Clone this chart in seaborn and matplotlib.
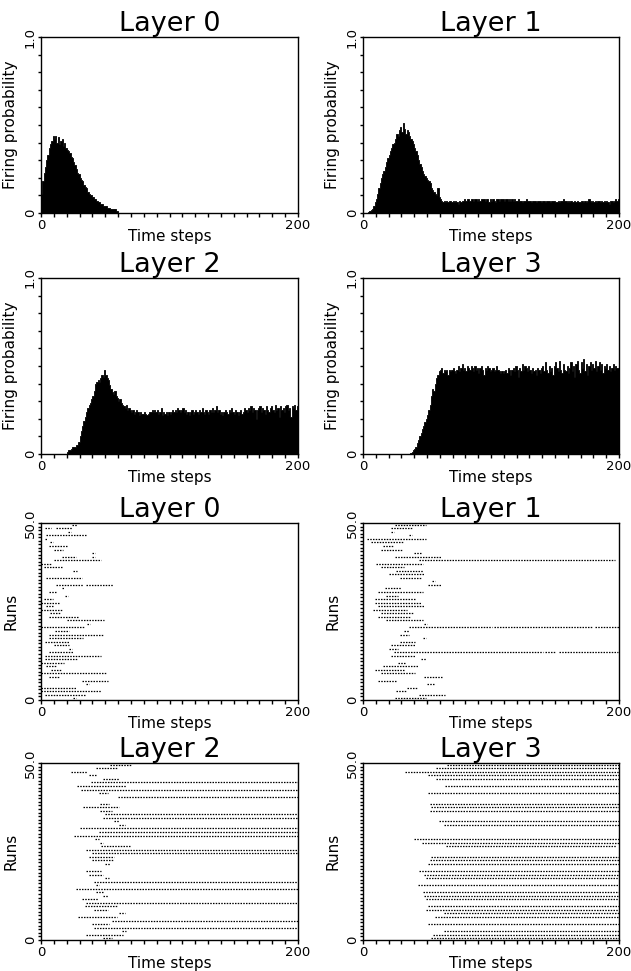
import numpy as np
import pandas as pd
import seaborn as sns
import matplotlib
matplotlib.use("Agg")
import matplotlib.pyplot as plt

# firing probability per time step (0..199)
layer0_prob = [
    0.11, 0.18, 0.23, 0.26, 0.30, 0.33, 0.37, 0.39, 0.41, 0.44,
    0.42, 0.44, 0.40, 0.43, 0.39, 0.41, 0.42, 0.38, 0.40, 0.37,
    0.36, 0.35, 0.34, 0.32, 0.31, 0.29, 0.27, 0.25, 0.23, 0.22,
    0.20, 0.19, 0.18, 0.16, 0.15, 0.14, 0.12, 0.11, 0.10, 0.10,
    0.09, 0.08, 0.08, 0.07, 0.06, 0.06, 0.05, 0.05, 0.04, 0.04,
    0.04, 0.03, 0.03, 0.03, 0.02, 0.02, 0.02, 0.02, 0.01, 0.01,
] + [0.0] * 140

layer1_prob = [
    0.0, 0.0, 0.0, 0.0, 0.005, 0.01, 0.015, 0.02, 0.04, 0.06,
    0.08, 0.11, 0.14, 0.17, 0.20, 0.22, 0.24, 0.26, 0.29, 0.31,
    0.33, 0.35, 0.37, 0.39, 0.40, 0.42, 0.45, 0.44, 0.47, 0.49,
    0.46, 0.51, 0.48, 0.45, 0.47, 0.46, 0.44, 0.42, 0.41, 0.39,
    0.37, 0.35, 0.33, 0.30, 0.28, 0.26, 0.24, 0.22, 0.21, 0.20,
    0.19, 0.18, 0.17, 0.14, 0.13, 0.12, 0.11, 0.10, 0.14, 0.09,
    0.08, 0.07, 0.06, 0.07, 0.06, 0.07, 0.06, 0.07, 0.07, 0.06,
    0.07, 0.06, 0.07, 0.06, 0.05, 0.07, 0.06, 0.07, 0.07, 0.08,
    0.07, 0.08, 0.08, 0.07, 0.08, 0.08, 0.07, 0.08, 0.08, 0.07,
    0.08, 0.07, 0.08, 0.08, 0.08, 0.07, 0.08, 0.08, 0.06, 0.08,
    0.07, 0.08, 0.07, 0.06, 0.08, 0.08, 0.07, 0.08, 0.08, 0.08,
    0.07, 0.08, 0.08, 0.07, 0.08, 0.07, 0.08, 0.07, 0.08, 0.07,
    0.07, 0.08, 0.07, 0.07, 0.06, 0.07, 0.07, 0.08, 0.07, 0.07,
    0.07, 0.06, 0.07, 0.07, 0.07, 0.06, 0.07, 0.07, 0.07, 0.06,
    0.07, 0.07, 0.06, 0.07, 0.07, 0.07, 0.06, 0.07, 0.07, 0.07,
    0.06, 0.06, 0.07, 0.06, 0.07, 0.07, 0.08, 0.07, 0.07, 0.06,
    0.07, 0.06, 0.07, 0.06, 0.06, 0.07, 0.06, 0.07, 0.06, 0.06,
    0.07, 0.07, 0.06, 0.07, 0.06, 0.07, 0.08, 0.07, 0.06, 0.07,
    0.06, 0.07, 0.06, 0.07, 0.07, 0.06, 0.07, 0.06, 0.07, 0.06,
    0.07, 0.06, 0.05, 0.07, 0.07, 0.06, 0.07, 0.08, 0.07, 0.08,
]

layer2_prob = [0.0] * 20 + [
    0.01, 0.02, 0.02, 0.03, 0.04, 0.04, 0.04, 0.05, 0.05, 0.07,
    0.10, 0.13, 0.16, 0.19, 0.21, 0.24, 0.26, 0.28, 0.29, 0.31,
    0.33, 0.36, 0.40, 0.41, 0.42, 0.41, 0.43, 0.45, 0.44, 0.48,
    0.45, 0.43, 0.42, 0.39, 0.37, 0.35, 0.34, 0.36, 0.33, 0.32,
    0.30, 0.31, 0.29, 0.28, 0.27, 0.26, 0.28, 0.25, 0.26, 0.25,
    0.24, 0.25, 0.23, 0.24, 0.25, 0.24, 0.22, 0.24, 0.23, 0.23,
    0.24, 0.23, 0.22, 0.23, 0.24, 0.24, 0.25, 0.24, 0.25, 0.24,
    0.25, 0.23, 0.24, 0.26, 0.22, 0.24, 0.23, 0.24, 0.22, 0.24,
    0.23, 0.24, 0.25, 0.24, 0.25, 0.24, 0.26, 0.25, 0.24, 0.25,
    0.26, 0.24, 0.25, 0.23, 0.24, 0.22, 0.24, 0.25, 0.23, 0.24,
    0.25, 0.24, 0.23, 0.25, 0.24, 0.26, 0.24, 0.23, 0.25, 0.24,
    0.23, 0.25, 0.24, 0.26, 0.24, 0.25, 0.27, 0.24, 0.25, 0.23,
    0.24, 0.22, 0.24, 0.25, 0.24, 0.23, 0.25, 0.24, 0.26, 0.24,
    0.23, 0.25, 0.24, 0.22, 0.24, 0.25, 0.23, 0.24, 0.26, 0.25,
    0.24, 0.26, 0.25, 0.27, 0.24, 0.26, 0.25, 0.20, 0.25, 0.26,
    0.27, 0.24, 0.26, 0.25, 0.23, 0.27, 0.25, 0.24, 0.26, 0.27,
    0.25, 0.24, 0.28, 0.25, 0.26, 0.21, 0.27, 0.25, 0.26, 0.24,
    0.27, 0.28, 0.25, 0.26, 0.21, 0.27, 0.26, 0.28, 0.25, 0.27,
]

layer3_prob = [0.0] * 37 + [
    0.005, 0.01, 0.02,
    0.03, 0.04, 0.06, 0.08, 0.10, 0.12, 0.14, 0.16, 0.18, 0.20,
    0.22, 0.25, 0.28, 0.33, 0.37, 0.36, 0.40, 0.43, 0.45, 0.47,
    0.48, 0.49, 0.46, 0.48, 0.47, 0.48, 0.45, 0.48, 0.47, 0.48,
    0.49, 0.47, 0.46, 0.48, 0.50, 0.47, 0.49, 0.51, 0.48, 0.49,
    0.47, 0.50, 0.49, 0.48, 0.50, 0.49, 0.47, 0.50, 0.48, 0.49,
    0.46, 0.49, 0.50, 0.48, 0.45, 0.49, 0.48, 0.50, 0.49, 0.47,
    0.48, 0.49, 0.47, 0.48, 0.50, 0.48, 0.47, 0.46, 0.47, 0.46,
    0.47, 0.48, 0.46, 0.49, 0.48, 0.45, 0.48, 0.49, 0.47, 0.50,
    0.48, 0.44, 0.49, 0.47, 0.51, 0.48, 0.50, 0.49, 0.47, 0.50,
    0.48, 0.46, 0.49, 0.47, 0.48, 0.45, 0.49, 0.48, 0.46, 0.49,
    0.50, 0.47, 0.52, 0.48, 0.46, 0.50, 0.47, 0.49, 0.45, 0.50,
    0.52, 0.49, 0.47, 0.53, 0.48, 0.46, 0.51, 0.48, 0.47, 0.50,
    0.46, 0.49, 0.52, 0.47, 0.50, 0.44, 0.51, 0.53, 0.48, 0.46,
    0.52, 0.49, 0.54, 0.47, 0.51, 0.45, 0.50, 0.52, 0.48, 0.51,
    0.49, 0.53, 0.47, 0.50, 0.52, 0.48, 0.51, 0.46, 0.50, 0.49,
    0.51, 0.48, 0.50, 0.47, 0.49, 0.51, 0.48, 0.50, 0.49, 0.49,
]

# raster: (run, first step, last step) of each firing stretch
raster0 = [
    (49, 24, 27), (48, 3, 7), (48, 12, 23), (47, 21, 22), (46, 4, 35),
    (45, 3, 4), (44, 7, 8), (43, 6, 20), (42, 10, 16), (41, 40, 41),
    (40, 16, 26), (40, 40, 41), (39, 10, 46), (38, 0, 7), (37, 2, 15),
    (36, 25, 27), (34, 4, 31), (32, 12, 32), (32, 35, 55), (31, 16, 17),
    (30, 6, 11), (29, 19, 20), (28, 2, 8), (27, 0, 13), (26, 4, 8),
    (25, 0, 16), (24, 7, 14), (23, 6, 28), (22, 20, 48), (21, 36, 37),
    (20, 0, 33), (19, 11, 21), (18, 6, 48), (17, 6, 32), (16, 3, 21),
    (15, 10, 21), (14, 22, 23), (13, 6, 24), (12, 3, 46), (11, 3, 28),
    (10, 0, 17), (9, 4, 11), (8, 8, 15), (7, 0, 50), (6, 6, 13),
    (5, 32, 51), (4, 35, 36), (3, 0, 26), (2, 0, 46), (1, 3, 34),
    (0, 25, 26),
]

raster1 = [
    (49, 25, 48), (48, 22, 37), (47, 22, 23), (46, 36, 37), (45, 3, 48),
    (44, 6, 31), (43, 16, 23), (42, 14, 30), (41, 40, 44), (40, 25, 60),
    (39, 44, 102), (39, 104, 160), (39, 162, 196), (38, 10, 46),
    (37, 14, 31), (36, 26, 46), (35, 20, 47), (34, 29, 44), (33, 54, 55),
    (32, 51, 60), (31, 17, 29), (30, 12, 46), (29, 18, 26), (28, 9, 40),
    (27, 9, 44), (26, 12, 47), (25, 8, 33), (24, 14, 38), (23, 12, 36),
    (22, 18, 46), (21, 48, 49), (20, 36, 100), (20, 102, 178),
    (20, 181, 199), (19, 32, 35), (18, 29, 35), (17, 47, 48), (16, 29, 40),
    (15, 22, 40), (14, 20, 26), (13, 24, 140), (13, 142, 150),
    (13, 153, 198), (12, 22, 40), (11, 45, 48), (10, 27, 32), (9, 16, 42),
    (8, 9, 31), (7, 14, 40), (6, 48, 61), (5, 12, 25), (4, 50, 55),
    (3, 34, 41), (2, 26, 33), (1, 44, 63), (0, 25, 48),
]

raster2 = [
    (49, 54, 69), (48, 43, 58), (47, 23, 35), (46, 37, 42), (45, 48, 60),
    (44, 39, 199), (43, 28, 65), (42, 31, 199), (41, 45, 51), (40, 60, 199),
    (38, 46, 52), (37, 33, 60), (36, 46, 54), (35, 50, 199), (34, 48, 199),
    (33, 57, 60), (32, 61, 64), (31, 30, 199), (30, 45, 199), (29, 26, 199),
    (28, 42, 44), (27, 46, 47), (26, 47, 68), (25, 35, 199), (24, 40, 199),
    (23, 37, 56), (22, 40, 56), (21, 50, 53), (19, 35, 46), (18, 37, 47),
    (17, 50, 52), (16, 41, 199), (15, 43, 44), (14, 27, 199), (13, 43, 48),
    (12, 48, 51), (11, 32, 43), (10, 35, 199), (9, 34, 59), (8, 41, 51),
    (7, 61, 64), (6, 29, 58), (5, 55, 199), (4, 40, 52), (3, 41, 199),
    (2, 63, 65), (1, 35, 63), (0, 48, 54),
]

raster3 = [
    (49, 66, 199), (48, 57, 199), (47, 33, 199), (46, 51, 199), (45, 57, 199),
    (43, 64, 199), (41, 51, 199), (38, 52, 199), (37, 53, 199), (36, 52, 199),
    (33, 59, 199), (32, 63, 199), (28, 40, 199), (27, 46, 199), (26, 65, 197),
    (23, 53, 199), (22, 52, 199), (21, 51, 199), (19, 44, 199), (18, 48, 199),
    (17, 49, 199), (15, 43, 199), (13, 47, 199), (12, 48, 199), (11, 49, 199),
    (9, 51, 199), (8, 49, 199), (7, 63, 199), (6, 56, 199), (4, 51, 199),
    (2, 63, 199), (1, 55, 199), (0, 53, 199),
]

steps = np.arange(200) + 0.5
n_runs = 50

sns.set_style("ticks")
plt.rcParams["font.family"] = ["DejaVu Sans"]
plt.rcParams["axes.linewidth"] = 1.0
plt.rcParams["xtick.direction"] = "out"
plt.rcParams["ytick.direction"] = "out"
for key in ["text.color", "axes.labelcolor", "xtick.color", "ytick.color", "axes.edgecolor"]:
    plt.rcParams[key] = "black"

W, H = 631, 971
fig = plt.figure(figsize=(W / 100, H / 100), dpi=100)


def make_ax(left, top, right, bottom):
    return fig.add_axes([left / W, 1 - bottom / H, (right - left) / W, (bottom - top) / H])


def style_ax(ax, title, ymax, ylab, ytop_label, yminor):
    ax.set_xlim(0, 200)
    ax.set_ylim(0, ymax)
    ax.set_xticks([0, 200])
    ax.set_xticklabels(["0", "200"], fontsize=9.5)
    ax.set_xticks(np.arange(0, 201, 10), minor=True)
    ax.set_yticks([0, ymax])
    ax.set_yticklabels(["0", ytop_label], fontsize=9.5, rotation=90, va="center")
    ax.set_yticks(yminor, minor=True)
    ax.tick_params(axis="x", which="both", length=3, width=1, pad=1)
    ax.tick_params(axis="y", which="both", length=2, width=1, pad=1)
    for sp in ax.spines.values():
        sp.set_visible(True)
        sp.set_color("black")
        sp.set_linewidth(1.0)
    ax.set_title(title, fontsize=19.5, pad=3)
    ax.set_xlabel("Time steps", fontsize=11, labelpad=-2)
    ax.set_ylabel(ylab, fontsize=11, labelpad=4)


cols = [(41, 298), (363, 619)]
rows = [(37, 213), (278, 454), (523, 700), (763, 940)]

probs = [layer0_prob, layer1_prob, layer2_prob, layer3_prob]
rasters = [raster0, raster1, raster2, raster3]

for i, prob in enumerate(probs):
    top, bottom = rows[i // 2]
    left, right = cols[i % 2]
    ax = make_ax(left, top, right, bottom)
    sns.histplot(x=steps, weights=prob, bins=200, binrange=(0, 200),
                 element="step", fill=True, color="black", edgecolor="black",
                 alpha=1, linewidth=0.6, ax=ax)
    style_ax(ax, f"Layer {i}", 1.0, "Firing probability", "1.0",
             np.arange(0, 1.01, 0.1))

for i, rast in enumerate(rasters):
    top, bottom = rows[2 + i // 2]
    left, right = cols[i % 2]
    ax = make_ax(left, top, right, bottom)
    recs = []
    for k, (run, t0, t1) in enumerate(rast):
        recs.append({"seg": k, "t": t0, "run": run + 0.5})
        recs.append({"seg": k, "t": t1 + 1, "run": run + 0.5})
    df = pd.DataFrame(recs)
    sns.lineplot(data=df, x="t", y="run", units="seg", estimator=None,
                 color="black", linewidth=0.9, linestyle=(0, (1.2, 1.0)),
                 sort=False, legend=False, ax=ax)
    style_ax(ax, f"Layer {i}", n_runs, "Runs", "50.0", np.arange(0, 51, 1))

fig.savefig("out.png", dpi=100, facecolor="white")
